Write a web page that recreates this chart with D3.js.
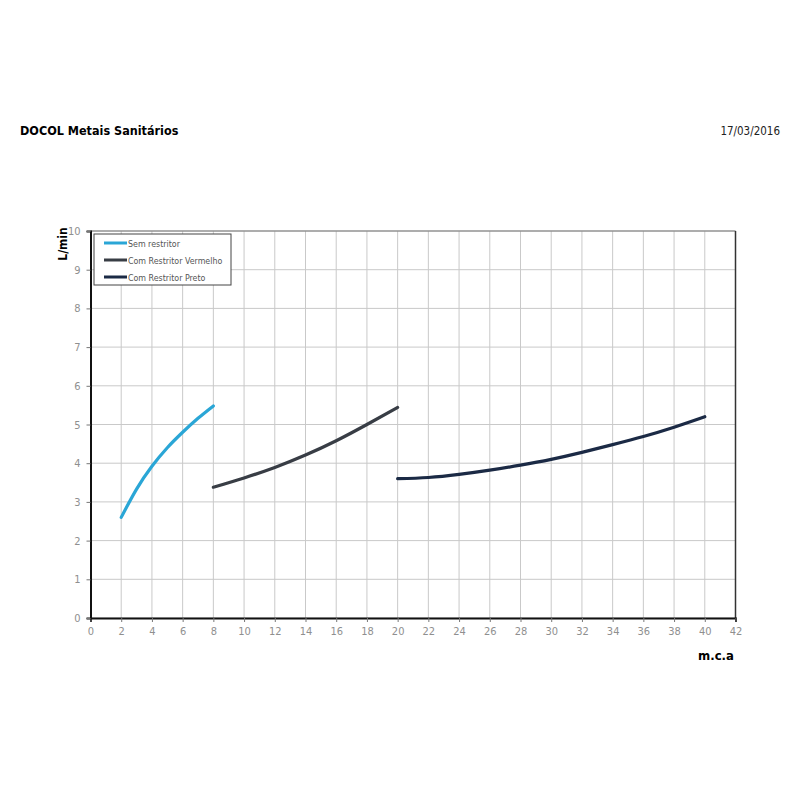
<!DOCTYPE html>
<html>
<head>
<meta charset="utf-8">
<script src="https://cdn.jsdelivr.net/npm/d3@7"></script>
<style>
	body { margin: 0; background: #fff; }
	svg { display: block; }
	text { font-stretch: condensed; }
</style>
</head>
<body>
<script>
const seriesNames = ['Sem restritor', 'Com Restritor Vermelho', 'Com Restritor Preto'];
const seriesColors = ['#2aa6d6', '#383d45', '#1b2a45'];

const semPressure = [2, 3, 4, 5, 6, 7, 8];
const semFlow = [2.6, 3.33, 3.92, 4.4, 4.8, 5.16, 5.48];

const vermelhoPressure = [8, 10, 12, 14, 16, 18, 20];
const vermelhoFlow = [3.38, 3.62, 3.89, 4.21, 4.58, 5.0, 5.44];

const pretoPressure = [20, 22, 24, 26, 28, 30, 32, 34, 36, 38, 40];
const pretoFlow = [3.6, 3.63, 3.71, 3.82, 3.95, 4.1, 4.28, 4.48, 4.69, 4.93, 5.2];

const xTicks = d3.range(0, 43, 2);
const yTicks = d3.range(0, 11, 1);

const title = 'DOCOL Metais Sanitários',
	dateText = '17/03/2016',
	xLabel = 'm.c.a',
	yLabel = 'L/min';

const zip = (xs, ys) => xs.map((x, i) => ({x, y: ys[i]}));
const series = [
	zip(semPressure, semFlow),
	zip(vermelhoPressure, vermelhoFlow),
	zip(pretoPressure, pretoFlow)
];

const font = '"DejaVu Sans Condensed", "Liberation Sans Narrow", sans-serif';

const svg = d3.select('body').append('svg')
	.attr('width', 800)
	.attr('height', 800);

const x = d3.scaleLinear().domain([0, 42]).range([90.5, 735.5]),
	y = d3.scaleLinear().domain([0, 10]).range([618, 231]);

// header
svg.append('text')
	.attr('x', 20).attr('y', 135)
	.style('font-family', font).style('font-weight', 'bold').style('font-size', '12.5px')
	.text(title);
svg.append('text')
	.attr('x', 780).attr('y', 135)
	.attr('text-anchor', 'end')
	.style('font-family', font).style('font-size', '11.5px').style('fill', '#222')
	.text(dateText);

// grid
const grid = svg.append('g').attr('stroke', '#c9c9c9').attr('stroke-width', 1);
grid.selectAll('.gx').data(xTicks).enter().append('line')
	.attr('x1', d => x(d)).attr('x2', d => x(d))
	.attr('y1', y(0)).attr('y2', y(10));
grid.selectAll('.gy').data(yTicks).enter().append('line')
	.attr('x1', x(0)).attr('x2', x(42))
	.attr('y1', d => y(d)).attr('y2', d => y(d));

// frame
svg.append('line').attr('x1', x(0)).attr('x2', x(42)).attr('y1', y(10)).attr('y2', y(10))
	.attr('stroke', '#777').attr('stroke-width', 1.2);
svg.append('line').attr('x1', x(42)).attr('x2', x(42)).attr('y1', y(10)).attr('y2', y(0))
	.attr('stroke', '#333').attr('stroke-width', 1.5);

// axes
const xAxis = svg.append('g')
	.attr('transform', `translate(0,${y(0)})`)
	.call(d3.axisBottom(x).tickValues(xTicks).tickSize(4).tickPadding(5).tickFormat(d3.format('d')));
const yAxis = svg.append('g')
	.attr('transform', `translate(${x(0)},0)`)
	.call(d3.axisLeft(y).tickValues(yTicks).tickSize(4).tickPadding(6).tickFormat(d3.format('d')));

[xAxis, yAxis].forEach(a => {
	a.select('.domain').attr('stroke', '#111').attr('stroke-width', 2);
	a.selectAll('.tick line').attr('stroke', '#777');
	a.selectAll('.tick text')
		.style('font-family', font).style('font-size', '11px').attr('fill', '#8f8f8f');
});

// axis labels
svg.append('text')
	.attr('transform', `translate(67,244) rotate(-90)`)
	.attr('text-anchor', 'middle')
	.style('font-family', font).style('font-weight', 'bold').style('font-size', '12px')
	.text(yLabel);
svg.append('text')
	.attr('x', 716).attr('y', 660)
	.attr('text-anchor', 'middle')
	.style('font-family', font).style('font-weight', 'bold').style('font-size', '13px')
	.text(xLabel);

// curves
const line = d3.line()
	.x(d => x(d.x))
	.y(d => y(d.y))
	.curve(d3.curveNatural);

svg.selectAll('.curve').data(series).enter().append('path')
	.attr('d', line)
	.attr('fill', 'none')
	.attr('stroke', (_, i) => seriesColors[i])
	.attr('stroke-width', 3.2)
	.attr('stroke-linecap', 'round');

// legend
const legend = svg.append('g').attr('transform', 'translate(94,234)');
legend.append('rect')
	.attr('width', 137).attr('height', 51)
	.attr('fill', '#fff').attr('stroke', '#444').attr('stroke-width', 1);
const items = legend.selectAll('.item').data(seriesNames).enter().append('g')
	.attr('transform', (_, i) => `translate(0,${9 + i * 17})`);
items.append('line')
	.attr('x1', 10).attr('x2', 33)
	.attr('stroke', (_, i) => seriesColors[i])
	.attr('stroke-width', 3);
items.append('text')
	.attr('x', 34).attr('y', 3.5)
	.style('font-family', font).style('font-size', '8.8px').attr('fill', '#555')
	.text(d => d);
</script>
</body>
</html>
